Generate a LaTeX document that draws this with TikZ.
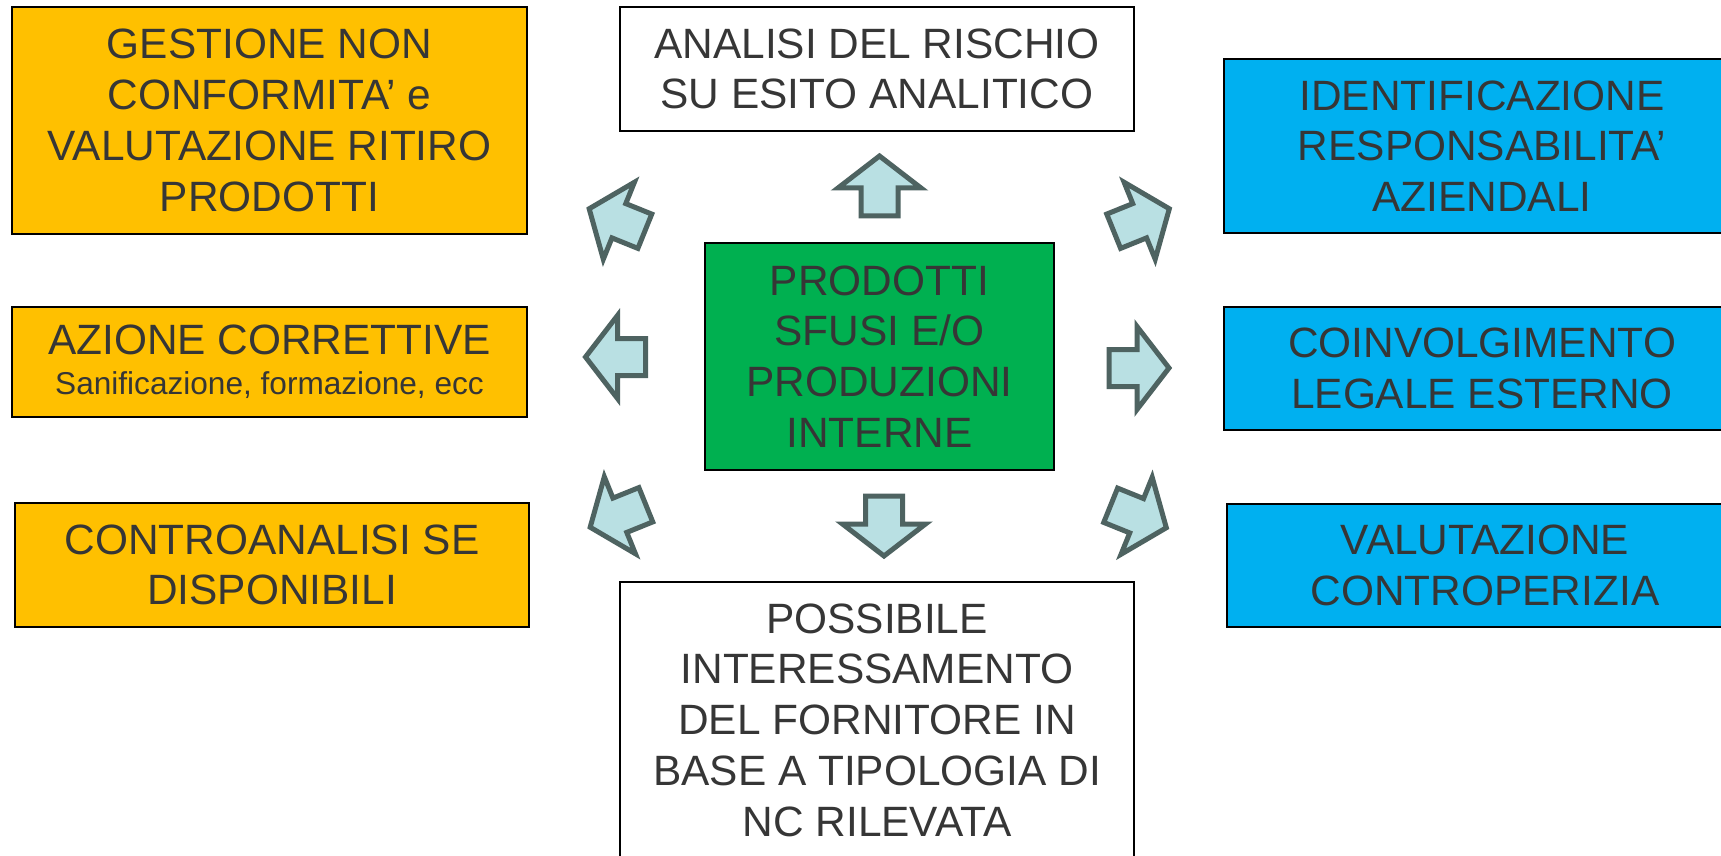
\documentclass[tikz,border=0pt]{standalone}
\usepackage{fontspec}
\setmainfont{Liberation Sans}
\usepackage{xcolor}
\definecolor{arancio}{HTML}{FFC000}
\definecolor{azzurro}{HTML}{00B0F0}
\definecolor{verde}{HTML}{00B050}
\definecolor{testo}{HTML}{363636}
\definecolor{frecciafill}{HTML}{B9E0E3}
\definecolor{frecciabordo}{HTML}{4E6361}
\tikzset{
  casella/.style={draw=black, line width=1pt, rectangle, align=center, inner sep=0pt, text=testo, font=\fontsize{21.2}{25.4}\selectfont},
  freccia/.style={fill=frecciafill, draw=frecciabordo, line width=2.5pt, line join=miter},
}
\begin{document}
\begin{tikzpicture}[x=0.5pt,y=-0.5pt]
            \clip (0,0) rectangle (1721,856);
            \fill[white] (0,0) rectangle (1721,856); % sfondo
            \node[casella, fill=verde, minimum width=174.5pt, minimum height=113.5pt] (prodotti) at (879.5,356.5) {PRODOTTI\\SFUSI E/O\\PRODUZIONI\\INTERNE};
            \node[casella, fill=arancio, minimum width=257.5pt, minimum height=113.5pt] (gestione) at (269.5,120.5) {GESTIONE NON\\CONFORMITA’ e\\VALUTAZIONE RITIRO\\PRODOTTI};
            \node[casella, fill=arancio, minimum width=257.5pt, minimum height=55pt] (azione) at (269.5,362) {AZIONE CORRETTIVE\\[-5.4pt]{\fontsize{15.8}{20}\selectfont Sanificazione, formazione, ecc}};
            \node[casella, fill=arancio, minimum width=257pt, minimum height=62pt] (contro) at (272,565) {CONTROANALISI SE\\DISPONIBILI};
            \node[casella, fill=white, minimum width=257pt, minimum height=62pt] (analisi) at (877,69) {ANALISI DEL RISCHIO\\SU ESITO ANALITICO};
            \node[casella, fill=white, minimum width=257pt, minimum height=138pt] (possibile) at (877,720) {POSSIBILE\\INTERESSAMENTO\\DEL FORNITORE IN\\BASE A TIPOLOGIA DI\\NC RILEVATA};
            \node[casella, fill=azzurro, minimum width=258pt, minimum height=87pt] (identif) at (1482,146) {IDENTIFICAZIONE\\RESPONSABILITA’\\AZIENDALI};
            \node[casella, fill=azzurro, minimum width=258pt, minimum height=61.5pt] (coinvolg) at (1482,368.5) {COINVOLGIMENTO\\LEGALE ESTERNO};
            \node[casella, fill=azzurro, minimum width=258pt, minimum height=61.5pt] (valutaz) at (1485,565.5) {VALUTAZIONE\\CONTROPERIZIA};
            % frecce a blocco
            \foreach \x/\y/\a in {879.5/186/90, 884/526/-90, 615.5/357/180, 1139/368/0, 617/220/158, 618/516/202, 1141.5/220/22, 1138.5/516.5/-22}
              \draw[freccia, shift={(\x,\y)}, rotate=\a] (-30,-18.5) -- (-2,-18.5) -- (-2,-41.5) -- (30,0) -- (-2,41.5) -- (-2,18.5) -- (-30,18.5) -- cycle;
\end{tikzpicture}
\end{document}
